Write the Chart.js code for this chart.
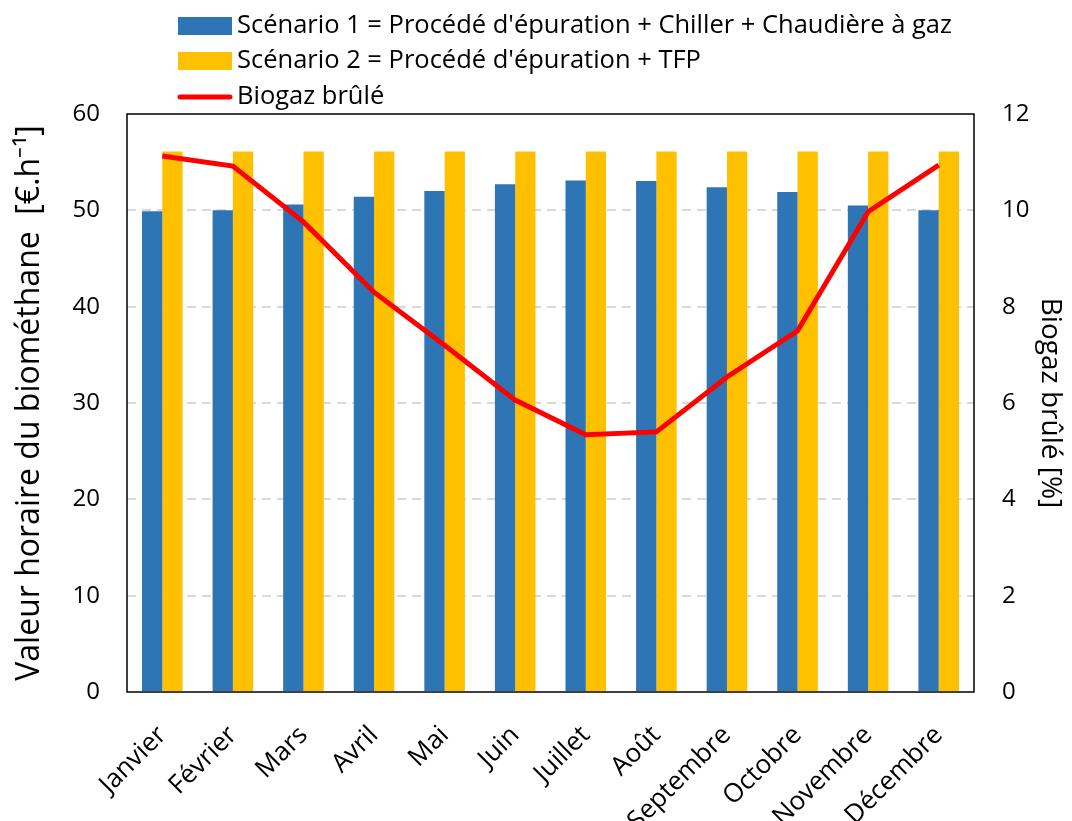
<!DOCTYPE html>
<html>
<head>
<meta charset="utf-8">
<script src="https://cdn.jsdelivr.net/npm/chart.js@4.4.1/dist/chart.umd.min.js"></script>
<style>
  html, body { margin: 0; padding: 0; background: #fff; }
  #wrap { width: 1072px; height: 821px; position: relative; }
</style>
</head>
<body>
<div id="wrap"><canvas id="myChart"></canvas></div>
<script>
const months = ['Janvier', 'Février', 'Mars', 'Avril', 'Mai', 'Juin', 'Juillet', 'Août', 'Septembre', 'Octobre', 'Novembre', 'Décembre'];
const scenario1 = [49.9, 50.0, 50.6, 51.4, 52.0, 52.7, 53.1, 53.05, 52.4, 51.9, 50.5, 50.0];
const scenario2 = [56.1, 56.1, 56.1, 56.1, 56.1, 56.1, 56.1, 56.1, 56.1, 56.1, 56.1, 56.1];
const biogazBrule = [11.13, 10.92, 9.76, 8.3, 7.2, 6.06, 5.34, 5.4, 6.54, 7.5, 9.97, 10.94];

const FONT = '"Open Sans"';

// legend stacked one item per line, like the original
const stackedLegend = {
    id: 'stackedLegend',
    afterDraw(chart) {
        const ctx = chart.ctx;
        const x0 = chart.chartArea.left + 51;
        const rows = [26, 61, 97];
        ctx.save();
        ctx.font = '25.5px ' + FONT;
        ctx.textBaseline = 'middle';
        chart.data.datasets.forEach((ds, i) => {
            const y = rows[i];
            if (ds.type === 'line') {
                ctx.strokeStyle = ds.borderColor;
                ctx.lineWidth = 5;
                ctx.lineCap = 'round';
                ctx.beginPath();
                ctx.moveTo(x0 + 2, y);
                ctx.lineTo(x0 + 52, y);
                ctx.stroke();
            } else {
                ctx.fillStyle = ds.backgroundColor;
                ctx.fillRect(x0, y - 9, 54, 18);
            }
            ctx.fillStyle = '#000';
            ctx.fillText(ds.label, x0 + 59, y);
        });
        ctx.restore();
    }
};

// black frame around the plot
const plotFrame = {
    id: 'plotFrame',
    afterDatasetsDraw(chart) {
        const { left, top, right, bottom } = chart.chartArea;
        const ctx = chart.ctx;
        ctx.save();
        ctx.strokeStyle = '#000';
        ctx.lineWidth = 1.5;
        ctx.strokeRect(left, top, right - left, bottom - top);
        ctx.restore();
    }
};

const data = {
    labels: months,
    datasets: [
        {
            type: 'bar',
            label: 'Scénario 1 = Procédé d\'épuration + Chiller + Chaudière à gaz',
            data: scenario1,
            backgroundColor: '#2E75B6',
            yAxisID: 'y',
            order: 2
        },
        {
            type: 'bar',
            label: 'Scénario 2 = Procédé d\'épuration + TFP',
            data: scenario2,
            backgroundColor: '#FFC000',
            yAxisID: 'y',
            order: 2
        },
        {
            type: 'line',
            label: 'Biogaz brûlé',
            data: biogazBrule,
            borderColor: '#FF0000',
            backgroundColor: '#FF0000',
            borderWidth: 5,
            pointRadius: 0,
            tension: 0,
            yAxisID: 'y1',
            order: 1
        }
    ]
};

const config = {
    type: 'bar',
    data: data,
    plugins: [stackedLegend, plotFrame],
    options: {
        responsive: true,
        maintainAspectRatio: false,
        animation: false,
        layout: { padding: { top: 114, left: 0, right: 0, bottom: 0 } },
        datasets: {
            bar: { barPercentage: 1, categoryPercentage: 0.575 }
        },
        plugins: {
            legend: { display: false },
            tooltip: { enabled: false }
        },
        scales: {
            x: {
                grid: { display: false, drawTicks: false },
                border: { display: false },
                ticks: {
                    color: '#000',
                    font: { family: FONT, size: 26 },
                    maxRotation: 45,
                    minRotation: 45,
                    padding: 28
                },
                afterFit(scale) { scale.height = 129; }
            },
            y: {
                position: 'left',
                min: 0,
                max: 60,
                ticks: {
                    stepSize: 10,
                    color: '#000',
                    font: { family: FONT, size: 24 },
                    padding: 27
                },
                grid: {
                    drawTicks: false,
                    color: (c) => (c.tick.value === 0 || c.tick.value === 60) ? 'rgba(0,0,0,0)' : '#d9d9d9',
                    lineWidth: 2
                },
                border: { display: false, dash: [9, 6] },
                title: {
                    display: true,
                    text: 'Valeur horaire du biométhane  [€.h⁻¹]',
                    color: '#000',
                    font: { family: FONT, size: 32 },
                    padding: { top: 11, bottom: 0 }
                },
                afterFit(scale) { scale.width = 127; }
            },
            y1: {
                position: 'right',
                min: 0,
                max: 12,
                ticks: {
                    stepSize: 2,
                    color: '#000',
                    font: { family: FONT, size: 24 },
                    padding: 28
                },
                grid: { display: false, drawTicks: false },
                border: { display: false },
                title: {
                    display: true,
                    text: 'Biogaz brûlé [%]',
                    color: '#000',
                    font: { family: FONT, size: 28 },
                    padding: { top: 5, bottom: 0 }
                },
                afterFit(scale) { scale.width = 98; }
            }
        }
    }
};

const myChart = new Chart(document.getElementById('myChart'), config);
</script>
</body>
</html>
